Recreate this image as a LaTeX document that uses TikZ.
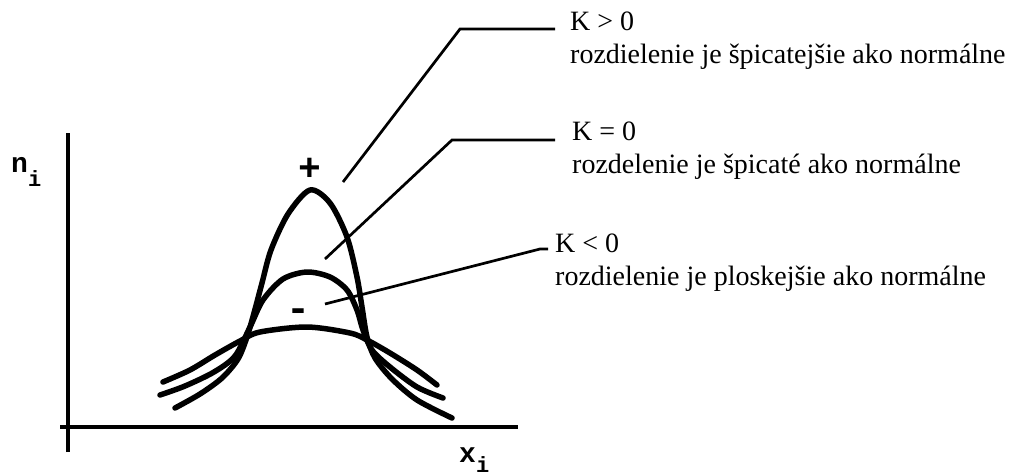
\documentclass[tikz,border=0pt]{standalone}
\usepackage{fontspec}
\setmainfont{Liberation Serif}
\setmonofont{Liberation Mono}
\begin{document}
\begin{tikzpicture}[
  x=1pt, y=-1pt,
  krivka/.style={line width=5.5pt, line cap=round, line join=round},
  os/.style={line width=3.5pt},
  odkaz/.style={line width=2.7pt},
  popis/.style={inner sep=0pt, anchor=base west,
                font=\fontsize{28}{32}\selectfont},
  znak/.style={inner sep=0pt, font=\fontsize{28}{30}\selectfont\ttfamily\bfseries},
]
\useasboundingbox (0,0) rectangle (1013,475);
% Osi
\coordinate (yTop) at (68,133);
\coordinate (yBot) at (68,452);
\coordinate (xL) at (60,427);
\coordinate (xR) at (518,427);
\draw[os] (yBot) -- (yTop);
\draw[os] (xL) -- (xR);
\node[znak, anchor=base west] (ni) at (11,172)
  {n\raisebox{-14pt}{\fontsize{22}{22}\selectfont i}};
\node[znak, anchor=base west] (xi) at (459,462)
  {x\raisebox{-10pt}{\fontsize{22}{22}\selectfont i}};

% Krivky: K>0, K=0, K<0
\draw[krivka] plot[smooth] coordinates {(175,408) (200,394) (222,378)
  (238,359) (247,337) (254,313) (262,283) (271,250) (288,214) (310,190)
  (330,203) (347,237) (357,277) (362,307) (367,337) (375,358) (392,379)
  (417,400) (452,418)};
\draw[krivka] plot[smooth] coordinates {(160,395) (185,386) (214,372)
  (235,356) (250,327) (263,300) (283,279) (307,272) (330,277) (347,290)
  (357,310) (363,330) (372,350) (390,367) (417,387) (443,398)};
\draw[krivka] plot[smooth] coordinates {(163,382) (190,370) (215,355)
  (240,341) (260,332) (307,327) (350,333) (367,340) (390,353) (417,370)
  (437,385)};
\node[znak, font=\fontsize{38}{38}\selectfont\ttfamily\bfseries] (plus) at (310,169) {+};
\node[znak, font=\fontsize{40}{40}\selectfont\ttfamily\bfseries] (minus) at (298,315) {-};

% Popisy
\node[popis] (kpos) at (570,30) {K > 0};
\node[popis] (kposT) at ([yshift=-33pt]kpos.base west)
  {rozdielenie je špicatejšie ako normálne};
\node[popis] (knul) at (572,140) {K = 0};
\node[popis] (knulT) at ([yshift=-33pt]knul.base west)
  {rozdelenie je špicaté ako normálne};
\node[popis] (kneg) at (555,252) {K < 0};
\node[popis] (knegT) at ([yshift=-33pt]kneg.base west)
  {rozdielenie je ploskejšie ako normálne};

% Odkazové čiary
\coordinate (tipP) at (343,182);
\coordinate (tipN) at (325,259);
\coordinate (tipM) at (325,304);
\draw[odkaz] (tipP) -- (460,29) -- ([xshift=-15pt,yshift=1pt]kpos.base west);
\draw[odkaz] (tipN) -- (452,140) -- ([xshift=-17pt]knul.base west);
\draw[odkaz] (tipM) -- (540,249) -- ([xshift=-7pt,yshift=3pt]kneg.base west);
\end{tikzpicture}
\end{document}
